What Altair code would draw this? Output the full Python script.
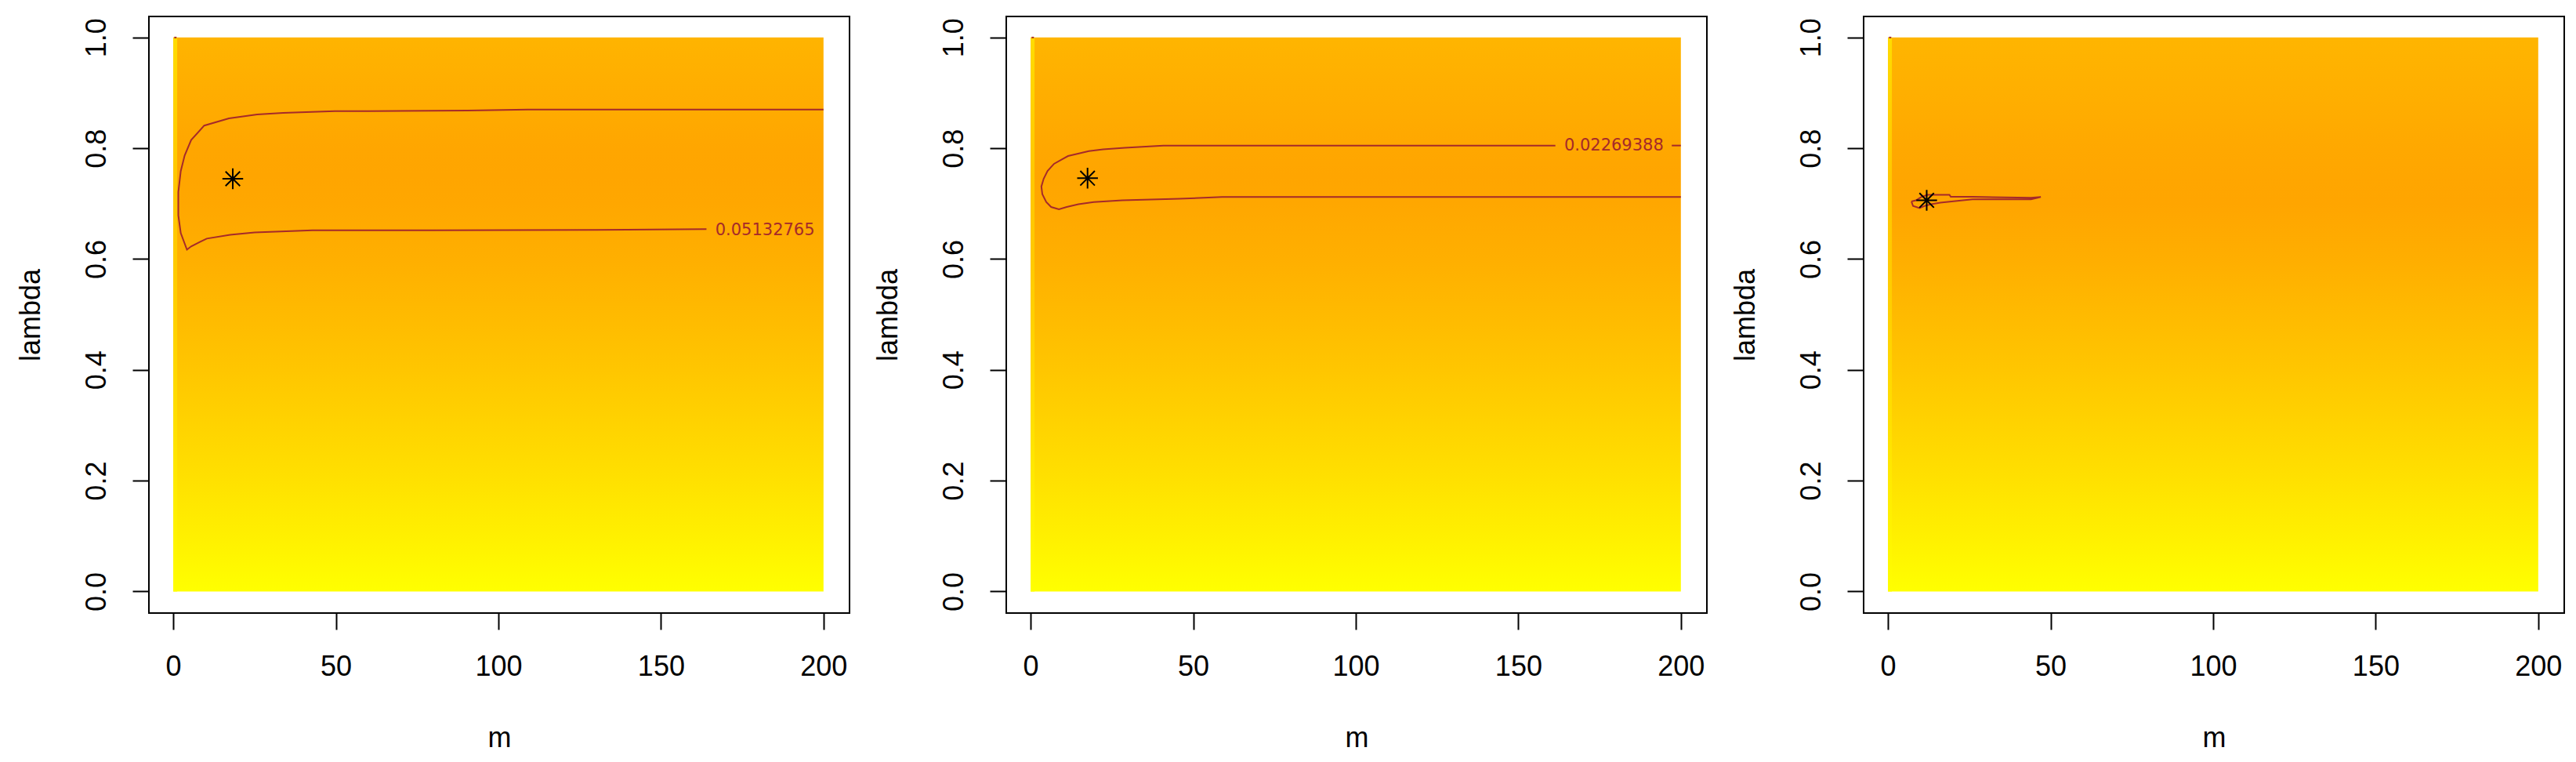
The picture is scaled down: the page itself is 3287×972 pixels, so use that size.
import altair as alt
import pandas as pd

# ---------------- data ----------------
M_TICKS = [0, 50, 100, 150, 200]
LAMBDA_TICKS = [0.0, 0.2, 0.4, 0.6, 0.8, 1.0]

# heat image: colour of the surface along lambda (image spans m 0..200, lambda 0..1)
HEAT_LAMBDA = [0.0, 0.1, 0.2, 0.3, 0.4, 0.5, 0.6, 0.7, 0.75, 0.8, 0.9, 1.0]
P1_HEAT = ["#FFFF00", "#FFF000", "#FFE100", "#FFD300", "#FFC600", "#FFBA00",
           "#FFAF00", "#FFA700", "#FFA500", "#FFA600", "#FFAD00", "#FFB400"]
P2_HEAT = ["#FFFF00", "#FFF000", "#FFE100", "#FFD300", "#FFC600", "#FFBA00",
           "#FFAF00", "#FFA700", "#FFA500", "#FFA700", "#FFAE00", "#FFB500"]
P3_HEAT = ["#FFFF00", "#FFF000", "#FFE100", "#FFD300", "#FFC600", "#FFBA00",
           "#FFAE00", "#FFA500", "#FFA600", "#FFA800", "#FFAF00", "#FFB500"]
EDGE_HEAT = ["#FFFF00", "#FFF400", "#FFEA00", "#FFE000", "#FFD800", "#FFD000",
             "#FFCA00", "#FFC800", "#FFC800", "#FFCC00", "#FFD400", "#FFDC00"]

# contour lines (m, lambda)
P1_CONTOUR_M = [200, 150, 109, 90.6, 60, 49.7, 33.8, 25.8, 17.1, 9.5, 5.5, 3.5, 2.3,
                1.55, 1.55, 2.3, 4.2, 5.5, 10.3, 17.5, 25, 42.8, 80, 139.5, 164]
P1_CONTOUR_L = [0.870, 0.870, 0.870, 0.868, 0.867, 0.867, 0.864, 0.861, 0.854, 0.841,
                0.815, 0.787, 0.759, 0.721, 0.679, 0.647, 0.617, 0.623, 0.637, 0.644,
                0.648, 0.652, 0.652, 0.653, 0.654]
P2_CONTOUR_M = [161.4, 115.8, 40.8, 29, 22.3, 17.9, 15.1, 11.5, 9.6, 7.2, 5.2, 4.0, 3.3,
                3.6, 4.8, 6.3, 8.7, 11.1, 14.7, 19.4, 28.2, 45.8, 58.9, 115.8, 200]
P2_CONTOUR_L = [0.805, 0.805, 0.805, 0.801, 0.798, 0.795, 0.791, 0.786, 0.780, 0.772,
                0.759, 0.745, 0.731, 0.717, 0.703, 0.694, 0.690, 0.694, 0.699, 0.703,
                0.706, 0.709, 0.712, 0.712, 0.712]
P2_TAIL_M = [197.2, 200]
P2_TAIL_L = [0.805, 0.805]
P3_CONTOUR_M = [7.2, 8.6, 10.2, 12.1, 18.9, 19.3, 26, 44, 47, 44, 26, 21.3, 16.1, 13.3,
                11.3, 9.7, 7.7, 7.2]
P3_CONTOUR_L = [0.704, 0.706, 0.712, 0.716, 0.716, 0.7125, 0.7125, 0.7106, 0.712, 0.708,
                0.708, 0.705, 0.702, 0.699, 0.696, 0.692, 0.696, 0.704]
CORNER_M = [0.3, 1.0]
CORNER_L = [1.0, 1.0]

# contour labels
P1_LABEL = ("0.05132765", 182, 0.651)
P2_LABEL = ("0.02269388", 179.4, 0.805)

# optimum markers (asterisks)
STAR_M = [18.3, 17.5, 11.9]
STAR_L = [0.745, 0.746, 0.706]

# ---------------- chart ----------------
FONT = "Liberation Sans"
X_DOMAIN = [-7.5, 208.0]
Y_DOMAIN = [-0.039, 1.038]
W, H = 894, 761

ASTERISK = "M-1,0L1,0M0,-1L0,1M-0.7,-0.7L0.7,0.7M-0.7,0.7L0.7,-0.7"

xs = alt.Scale(domain=X_DOMAIN, nice=False, zero=False)
ys = alt.Scale(domain=Y_DOMAIN, nice=False, zero=False)
x_axis = alt.Axis(values=M_TICKS, grid=False, domain=False, tickSize=21, tickWidth=2,
                  tickColor="black", labelFontSize=36, labelPadding=30, labelColor="black",
                  labelFont=FONT, titleFont=FONT, titleFontSize=36, titleFontWeight="normal",
                  titlePadding=56, titleColor="black", labelFlush=False)
y_axis = alt.Axis(values=LAMBDA_TICKS, grid=False, domain=False, tickSize=21, tickWidth=2,
                  tickColor="black", labelFontSize=36, labelPadding=35, labelColor="black",
                  labelFont=FONT, labelAngle=270, labelAlign="center",
                  labelBaseline="alphabetic", format=".1f", titleFont=FONT,
                  titleFontSize=36, titleFontWeight="normal", titlePadding=47,
                  titleColor="black", labelFlush=False)


def X(field):
    return alt.X(field, type="quantitative", scale=xs, axis=x_axis, title="m")


def Y(field):
    return alt.Y(field, type="quantitative", scale=ys, axis=y_axis, title="lambda")


def gradient(colors):
    return alt.Gradient(
        gradient="linear",
        stops=[alt.GradientStop(offset=o, color=c) for o, c in zip(HEAT_LAMBDA, colors)],
        x1=0, x2=0, y1=1, y2=0)


def line_df(ms, ls, seg):
    return pd.DataFrame({"m": ms, "lambda": ls, "i": list(range(len(ms))), "seg": seg})


def panel(heat, segments, label, star_i):
    heat_df = pd.DataFrame({"m": [0], "m2": [200], "lambda": [0.0], "lambda2": [1.0]})
    edge_df = pd.DataFrame({"m": [0], "m2": [1.2], "lambda": [0.0], "lambda2": [1.0]})
    rect = alt.Chart(heat_df).mark_rect(color=gradient(heat)).encode(
        x=X("m"), x2="m2", y=Y("lambda"), y2="lambda2")
    edge = alt.Chart(edge_df).mark_rect(color=gradient(EDGE_HEAT)).encode(
        x=X("m"), x2="m2", y=Y("lambda"), y2="lambda2")
    lines = pd.concat([line_df(ms, ls, k) for k, (ms, ls) in enumerate(segments)])
    contour = alt.Chart(lines).mark_line(color="#A52A2A", strokeWidth=2).encode(
        x=X("m"), y=Y("lambda"), detail="seg:N", order="i:Q")
    layers = [rect, edge, contour]
    if label is not None:
        lab_df = pd.DataFrame({"t": [label[0]], "m": [label[1]], "lambda": [label[2]]})
        layers.append(alt.Chart(lab_df).mark_text(
            font="DejaVu Sans", fontSize=21, color="#A52A2A", align="center",
            baseline="middle").encode(x=X("m"), y=Y("lambda"), text="t:N"))
    star_df = pd.DataFrame({"m": [STAR_M[star_i]], "lambda": [STAR_L[star_i]]})
    layers.append(alt.Chart(star_df).mark_point(
        shape=ASTERISK, size=700, filled=False, stroke="black", strokeWidth=2,
        opacity=1).encode(x=X("m"), y=Y("lambda")))
    return alt.layer(*layers).properties(width=W, height=H)


p1 = panel(P1_HEAT, [(P1_CONTOUR_M, P1_CONTOUR_L), (CORNER_M, CORNER_L)], P1_LABEL, 0)
p2 = panel(P2_HEAT, [(P2_CONTOUR_M, P2_CONTOUR_L), (P2_TAIL_M, P2_TAIL_L),
                     (CORNER_M, CORNER_L)], P2_LABEL, 1)
p3 = panel(P3_HEAT, [(P3_CONTOUR_M, P3_CONTOUR_L), (CORNER_M, CORNER_L)], None, 2)

chart = alt.hconcat(p1, p2, p3, spacing=29).properties(
    padding={"left": 12, "top": 12, "right": 5, "bottom": 5},
    background="white",
).configure_view(stroke="black", strokeWidth=2)

chart.save("out.html", embed_options={"renderer": "svg", "actions": False})
